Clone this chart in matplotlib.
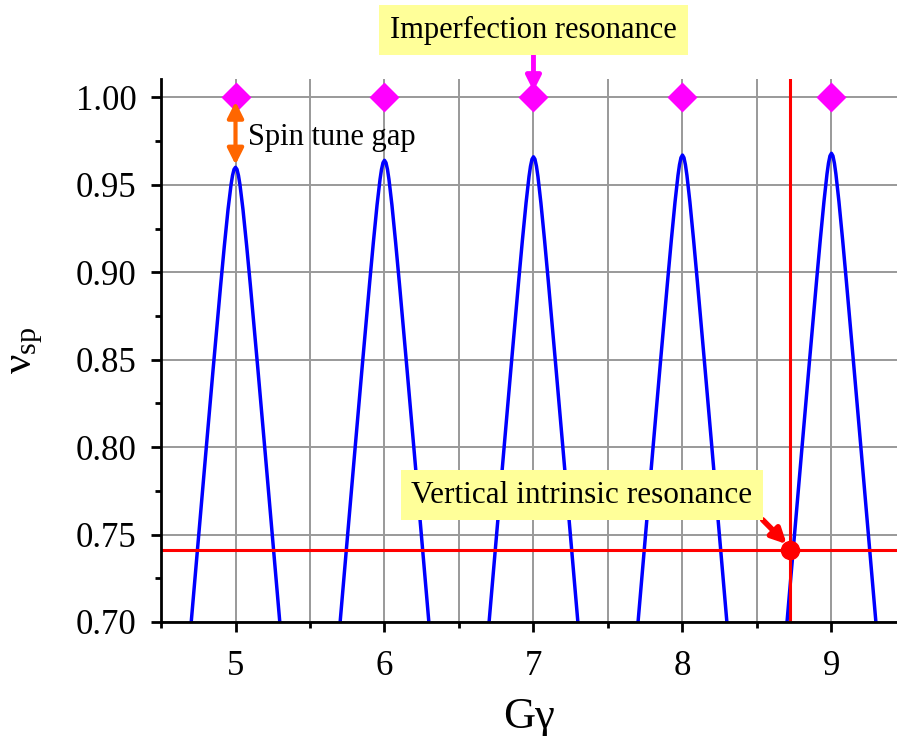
import numpy as np
import matplotlib
matplotlib.use("Agg")
import matplotlib.pyplot as plt
from matplotlib.ticker import MultipleLocator, FormatStrFormatter

plt.rcParams['font.family'] = ['Liberation Serif', 'DejaVu Serif']
plt.rcParams['mathtext.fontset'] = 'custom'
plt.rcParams['mathtext.rm'] = 'Liberation Serif'
plt.rcParams['mathtext.it'] = 'Liberation Serif:italic'

# Resonance centres (integer G*gamma)
centers = [5, 6, 7, 8, 9]
# offsets from each centre (one side, mirrored)
offsets = [0.0, 0.01, 0.02, 0.03, 0.05, 0.075, 0.10, 0.15, 0.20, 0.31]
# spin tune values read for each peak at the offsets above
nu_peak5 = [0.960, 0.9588, 0.9553, 0.9500, 0.9360, 0.9150, 0.8923, 0.8448, 0.7960, 0.6874]
nu_peak6 = [0.964, 0.9626, 0.9588, 0.9531, 0.9384, 0.9168, 0.8937, 0.8457, 0.7968, 0.6879]
nu_peak7 = [0.966, 0.9646, 0.9606, 0.9547, 0.9395, 0.9177, 0.8944, 0.8462, 0.7971, 0.6881]
nu_peak8 = [0.967, 0.9655, 0.9614, 0.9554, 0.9401, 0.9181, 0.8947, 0.8464, 0.7973, 0.6882]
nu_peak9 = [0.968, 0.9665, 0.9623, 0.9561, 0.9406, 0.9185, 0.8950, 0.8466, 0.7975, 0.6884]
peaks = [nu_peak5, nu_peak6, nu_peak7, nu_peak8, nu_peak9]

imperf_x = [5, 6, 7, 8, 9]
imperf_y = [1.0, 1.0, 1.0, 1.0, 1.0]

intrinsic_x = 8.72
intrinsic_nu = 0.741

fig = plt.figure(figsize=(8.97, 7.36), dpi=100)
ax = fig.add_axes([0.1795, 0.1549, 0.8205, 0.7378])

for c, nu in zip(centers, peaks):
    off = np.array(offsets)
    v = np.array(nu)
    xs = np.concatenate([c - off[::-1], c + off[1:]])
    ys = np.concatenate([v[::-1], v[1:]])
    ax.plot(xs, ys, color='#0000FF', lw=2.5, zorder=3)

ax.axhline(intrinsic_nu, color='#FF0000', lw=2.2, zorder=4)
ax.axvline(intrinsic_x, color='#FF0000', lw=2.2, zorder=4)
ax.plot([intrinsic_x], [intrinsic_nu], 'o', color='#FF0000', ms=13, zorder=6)

ax.plot(imperf_x, imperf_y, 'D', color='#FF00FF', ms=15, mec='none', zorder=6, clip_on=False)

ax.set_xlim(4.5, 9.44)
ax.set_ylim(0.70, 1.0105)
ax.xaxis.set_major_locator(MultipleLocator(1))
ax.xaxis.set_minor_locator(MultipleLocator(0.5))
ax.yaxis.set_major_locator(MultipleLocator(0.05))
ax.yaxis.set_minor_locator(MultipleLocator(0.025))
ax.yaxis.set_major_formatter(FormatStrFormatter('%.2f'))

ax.grid(True, which='major', color='#999999', lw=1.4, zorder=0)
ax.grid(True, which='minor', axis='x', color='#999999', lw=1.4, zorder=0)
ax.set_axisbelow(True)

for s in ['top', 'right']:
    ax.spines[s].set_visible(False)
for s in ['left', 'bottom']:
    ax.spines[s].set_linewidth(2.0)
    ax.spines[s].set_zorder(5)

ax.tick_params(which='major', direction='out', length=7.5, width=2, labelsize=25)
ax.tick_params(axis='x', which='major', pad=13)
ax.tick_params(axis='y', which='major', pad=10)
ax.tick_params(which='minor', direction='out', length=4, width=2)

ax.set_xlabel('G\u03b3', fontsize=32, labelpad=10)
ax.set_ylabel('$\\mathrm{\u03bd_{sp}}$', fontsize=31, labelpad=22)

# Spin tune gap double arrow
ax.annotate('', xy=(5, 0.9615), xytext=(5, 0.9975),
            arrowprops=dict(arrowstyle='<|-|>', color='#FF6600', lw=3,
                            mutation_scale=24, shrinkA=0, shrinkB=0), zorder=7)
ax.text(5.085, 0.977, 'Spin tune gap', fontsize=22, ha='left', va='center', zorder=7)

# Imperfection resonance label
ax.annotate('Imperfection resonance', xy=(7, 1.0035), xytext=(7, 1.0385),
            fontsize=22, ha='center', va='center', annotation_clip=False,
            bbox=dict(boxstyle='square,pad=0.35', fc='#FFFF99', ec='none'),
            arrowprops=dict(arrowstyle='-|>', color='#FF00FF', lw=3.5,
                            mutation_scale=22, shrinkA=0, shrinkB=0), zorder=8)

# Vertical intrinsic resonance label
ax.annotate('Vertical intrinsic resonance', xy=(8.70, 0.7445), xytext=(7.325, 0.7726),
            fontsize=22.5, ha='center', va='center',
            bbox=dict(boxstyle='square,pad=0.33', fc='#FFFF99', ec='none'),
            arrowprops=dict(arrowstyle='-|>', color='#FF0000', lw=4,
                            mutation_scale=22, shrinkA=0, shrinkB=0,
                            relpos=(1.0, 0.0)), zorder=8)

fig.savefig('out.png', dpi=100)
